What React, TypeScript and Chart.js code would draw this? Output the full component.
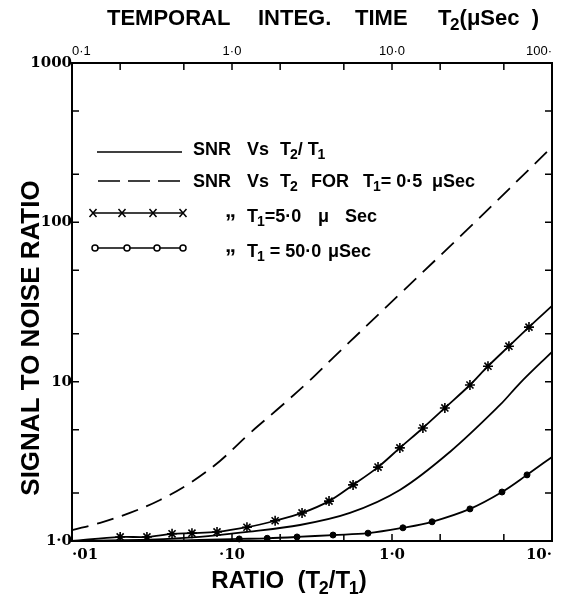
import React, { useEffect, useRef } from "react";
import { Chart, registerables } from "chart.js";

Chart.register(...registerables);

// ---- axis ticks ----
const ratioTickValues = [0.01, 0.1, 1, 10];
const ratioTickLabels = ["·01", "·10", "1·0", "10·"];
const ratioMinorTicks = [0.02, 0.05, 0.1, 0.2, 0.5, 1, 2, 5];
const timeTickValues = [0.1, 1, 10, 100];
const timeTickLabels = ["0·1", "1·0", "10·0", "100·"];
const timeMinorTicks = [0.2, 0.5, 1, 2, 5, 10, 20, 50];
const snrTickValues = [1, 10, 100, 1000];
const snrTickLabels = ["1·0", "10", "100", "1000"];
const snrMinorTicks = [2, 5, 10, 20, 50, 100, 200, 500];

// ---- series: SNR vs T2/T1 (solid) ----
const ratioSolid = [0.01, 0.0307, 0.063, 0.124, 0.266, 0.546, 1.12, 2.3, 4.73, 6.31, 10];
const snrSolid = [1.0, 1.02, 1.06, 1.14, 1.26, 1.5, 2.09, 3.62, 7.14, 9.8, 15.4];

// ---- series: SNR vs T2 for T1 = 0.5 uSec (dashed) ----
const ratioDashed = [0.01, 0.015, 0.023, 0.0355, 0.0546, 0.0841, 0.1296, 0.2, 0.307, 0.428, 1.12, 2.94, 10];
const snrDashed = [1.17, 1.3, 1.5, 1.81, 2.31, 3.18, 4.76, 6.93, 10.2, 14.1, 35.5, 89.6, 297];

// ---- series: T1 = 5.0 uSec (crosses) ----
const ratioT1_5 = [0.01, 0.02, 0.0294, 0.0422, 0.0562, 0.0806, 0.124, 0.186, 0.274, 0.404, 0.571, 0.818, 1.12, 1.56, 2.14, 3.07, 3.98, 5.38, 7.18, 10];
const snrT1_5 = [1.0, 1.06, 1.06, 1.11, 1.12, 1.14, 1.22, 1.34, 1.5, 1.78, 2.25, 2.91, 3.84, 5.12, 6.84, 9.53, 12.5, 16.7, 22.0, 29.9];
const markT1_5 = [0, 1, 1, 1, 1, 1, 1, 1, 1, 1, 1, 1, 1, 1, 1, 1, 1, 1, 1, 0];

// ---- series: T1 = 50.0 uSec (dots) ----
const ratioT1_50 = [0.01, 0.05, 0.111, 0.166, 0.255, 0.428, 0.708, 1.17, 1.78, 3.07, 4.87, 6.98, 10];
const snrT1_50 = [1.0, 1.01, 1.03, 1.04, 1.06, 1.09, 1.12, 1.21, 1.32, 1.59, 2.03, 2.6, 3.37];
const markT1_50 = [0, 0, 1, 1, 1, 1, 1, 1, 1, 1, 1, 1, 0];

const SANS = "'Liberation Sans', Arial, Helvetica, sans-serif";
const SERIF = "'DejaVu Serif', 'Liberation Serif', serif";

function toPoints(xs: number[], ys: number[]) {
  return xs.map((x, i) => ({ x, y: ys[i] }));
}

function drawRich(
  ctx: CanvasRenderingContext2D,
  text: string,
  x: number,
  y: number,
  size: number,
  weight: string,
  family: string,
  align: "left" | "center" | "right" = "left"
) {
  const segs: { t: string; sub: boolean }[] = [];
  for (let i = 0; i < text.length; i++) {
    if (text[i] === "_") {
      segs.push({ t: text[i + 1], sub: true });
      i++;
    } else if (segs.length && !segs[segs.length - 1].sub) {
      segs[segs.length - 1].t += text[i];
    } else {
      segs.push({ t: text[i], sub: false });
    }
  }
  const fMain = `${weight} ${size}px ${family}`;
  const fSub = `${weight} ${Math.round(size * 0.76)}px ${family}`;
  const kern = -size * 0.06;
  let w = 0;
  segs.forEach((s) => {
    ctx.font = s.sub ? fSub : fMain;
    w += ctx.measureText(s.t).width + (s.sub ? kern : 0);
  });
  let cx = align === "center" ? x - w / 2 : align === "right" ? x - w : x;
  ctx.textAlign = "left";
  ctx.textBaseline = "alphabetic";
  segs.forEach((s) => {
    ctx.font = s.sub ? fSub : fMain;
    if (s.sub) cx += kern;
    ctx.fillText(s.t, cx, y + (s.sub ? size * 0.24 : 0));
    cx += ctx.measureText(s.t).width;
  });
  return w;
}

const decorPlugin = {
  id: "decor",
  beforeDraw(chart: any) {
    const ctx = chart.ctx;
    ctx.save();
    ctx.fillStyle = "#fff";
    ctx.fillRect(0, 0, chart.width, chart.height);
    ctx.restore();
  },
  afterDraw(chart: any) {
    const ctx: CanvasRenderingContext2D = chart.ctx;
    const { left, right, top, bottom } = chart.chartArea;
    const xs = chart.scales.x;
    const xt = chart.scales.x2;
    const ys = chart.scales.y;
    const TL = 7;
    ctx.save();
    ctx.strokeStyle = "#000";
    ctx.fillStyle = "#000";
    ctx.lineWidth = 1.5;
    ctx.beginPath();
    ratioMinorTicks.forEach((v) => {
      const px = xs.getPixelForValue(v);
      ctx.moveTo(px, bottom);
      ctx.lineTo(px, bottom - TL);
    });
    timeMinorTicks.forEach((v) => {
      const px = xt.getPixelForValue(v);
      ctx.moveTo(px, top);
      ctx.lineTo(px, top + TL);
    });
    snrMinorTicks.forEach((v) => {
      const py = ys.getPixelForValue(v);
      ctx.moveTo(left, py);
      ctx.lineTo(left + TL, py);
      ctx.moveTo(right, py);
      ctx.lineTo(right - TL, py);
    });
    ctx.stroke();

    // titles
    const titleWords: [number, string][] = [
      [107, "TEMPORAL"],
      [258, "INTEG."],
      [355, "TIME"],
      [438, "T_2(μSec  )"],
    ];
    titleWords.forEach(([x, t]) => drawRich(ctx, t, x, 25, 22, "bold", SANS));

    drawRich(ctx, "RATIO  (T_2/T_1)", 289, 588, 24, "bold", SANS, "center");

    ctx.save();
    ctx.translate(39, 338);
    ctx.rotate(-Math.PI / 2);
    drawRich(ctx, "SIGNAL TO NOISE RATIO", 0, 0, 26, "bold", SANS, "center");
    ctx.restore();

    // legend
    const legendRows: { y: number; base: number; kind: string; words: [number, string][] }[] = [
      { y: 152, base: 155, kind: "solid", words: [[193, "SNR"], [247, "Vs"], [280, "T_2/ T_1"]] },
      {
        y: 181,
        base: 187,
        kind: "dashed",
        words: [[193, "SNR"], [247, "Vs"], [280, "T_2"], [311, "FOR"], [363, "T_1= 0·5"], [432, "μSec"]],
      },
      { y: 213, base: 222, kind: "x", words: [[247, "T_1=5·0"], [318, "μ"], [345, "Sec"]] },
      { y: 248, base: 257, kind: "o", words: [[247, "T_1 = 50·0"], [328, "μSec"]] },
    ];
    legendRows.forEach((row) => {
      ctx.lineWidth = 1.5;
      ctx.beginPath();
      if (row.kind === "solid") {
        ctx.moveTo(97, row.y);
        ctx.lineTo(182, row.y);
        ctx.stroke();
      } else if (row.kind === "dashed") {
        ctx.setLineDash([22, 8]);
        ctx.moveTo(98, row.y);
        ctx.lineTo(182, row.y);
        ctx.stroke();
        ctx.setLineDash([]);
      } else if (row.kind === "x") {
        ctx.moveTo(93, row.y);
        ctx.lineTo(183, row.y);
        ctx.stroke();
        [93, 122, 153, 183].forEach((cx) => {
          ctx.beginPath();
          ctx.moveTo(cx - 3.5, row.y - 4);
          ctx.lineTo(cx + 3.5, row.y + 4);
          ctx.moveTo(cx + 3.5, row.y - 4);
          ctx.lineTo(cx - 3.5, row.y + 4);
          ctx.stroke();
        });
      } else {
        ctx.moveTo(95, row.y);
        ctx.lineTo(183, row.y);
        ctx.stroke();
        [95, 127, 157, 183].forEach((cx) => {
          ctx.beginPath();
          ctx.arc(cx, row.y, 3, 0, Math.PI * 2);
          ctx.fillStyle = "#fff";
          ctx.fill();
          ctx.stroke();
          ctx.fillStyle = "#000";
        });
      }
      if (row.kind === "x" || row.kind === "o") {
        ctx.font = `bold 22px ${SANS}`;
        ctx.textAlign = "left";
        ctx.fillText("„", 225, row.base - 5);
      }
      row.words.forEach(([x, t]) => drawRich(ctx, t, x, row.base, 18, "bold", SANS));
    });
    ctx.restore();
  },
};

export default function App() {
  const ref = useRef<HTMLCanvasElement>(null);
  useEffect(() => {
    const canvas = ref.current;
    if (!canvas) return;
    const lineBase = {
      borderColor: "#000",
      backgroundColor: "#000",
      borderWidth: 1.8,
      fill: false,
      tension: 0.35,
      clip: 6,
    };
    const chart = new Chart(canvas, {
      type: "line",
      data: {
        datasets: [
          { ...lineBase, label: "SNR Vs T2/T1", data: toPoints(ratioSolid, snrSolid), pointRadius: 0 },
          {
            ...lineBase,
            label: "SNR Vs T2 FOR T1=0.5 uSec",
            data: toPoints(ratioDashed, snrDashed),
            pointRadius: 0,
            borderDash: [17, 9],
          },
          {
            ...lineBase,
            label: "T1=5.0 uSec",
            data: toPoints(ratioT1_5, snrT1_5),
            pointStyle: "star",
            pointRadius: (c: any) => (markT1_5[c.dataIndex] ? 5 : 0),
            pointBorderColor: "#000",
            pointBorderWidth: 1.6,
          },
          {
            ...lineBase,
            label: "T1=50.0 uSec",
            data: toPoints(ratioT1_50, snrT1_50),
            pointStyle: "circle",
            pointRadius: (c: any) => (markT1_50[c.dataIndex] ? 3 : 0),
            pointBackgroundColor: "#000",
            pointBorderColor: "#000",
            pointBorderWidth: 1,
          },
        ],
      },
      options: {
        responsive: false,
        animation: false,
        layout: { padding: { left: 0, right: 24, top: 0, bottom: 0 } },
        plugins: { legend: { display: false }, tooltip: { enabled: false } },
        elements: { point: { hoverRadius: 0 } },
        scales: {
          x: {
            type: "logarithmic",
            position: "bottom",
            min: 0.01,
            max: 10,
            grid: { display: false, drawTicks: false },
            border: { display: true, color: "#000", width: 2 },
            afterBuildTicks: (s: any) => {
              s.ticks = ratioTickValues.map((v) => ({ value: v }));
            },
            ticks: {
              autoSkip: false,
              maxRotation: 0,
              align: "inner",
              padding: 5,
              color: "#000",
              font: { family: SERIF, weight: "bold", size: 15 },
              callback: (_v: any, i: number) => ratioTickLabels[i],
            },
            afterFit: (s: any) => {
              s.height = 60;
            },
          },
          x2: {
            type: "logarithmic",
            position: "top",
            min: 0.1,
            max: 100,
            grid: { display: false, drawTicks: false },
            border: { display: true, color: "#000", width: 2 },
            afterBuildTicks: (s: any) => {
              s.ticks = timeTickValues.map((v) => ({ value: v }));
            },
            ticks: {
              autoSkip: false,
              maxRotation: 0,
              align: "inner",
              padding: 4,
              color: "#000",
              font: { family: SANS, size: 13 },
              callback: (_v: any, i: number) => timeTickLabels[i],
            },
            afterFit: (s: any) => {
              s.height = 63;
            },
          },
          y: {
            type: "logarithmic",
            position: "left",
            min: 1,
            max: 1000,
            grid: { display: false, drawTicks: false },
            border: { display: true, color: "#000", width: 2 },
            afterBuildTicks: (s: any) => {
              s.ticks = snrTickValues.map((v) => ({ value: v }));
            },
            ticks: {
              autoSkip: false,
              padding: 0,
              color: "#000",
              font: { family: SERIF, weight: "bold", size: 15 },
              callback: (_v: any, i: number) => snrTickLabels[i],
            },
            afterFit: (s: any) => {
              s.width = 72;
            },
          },
          y2: {
            type: "logarithmic",
            position: "right",
            min: 1,
            max: 1000,
            grid: { display: false, drawTicks: false },
            border: { display: true, color: "#000", width: 2 },
            ticks: { display: false },
            afterFit: (s: any) => {
              s.width = 0;
            },
          },
        },
      },
      plugins: [decorPlugin],
    } as any);
    return () => chart.destroy();
  }, []);
  return (
    <div style={{ position: "absolute", left: 0, top: 0, width: 576, height: 601, background: "#fff" }}>
      <canvas ref={ref} width={576} height={601} style={{ display: "block", width: 576, height: 601 }} />
    </div>
  );
}
